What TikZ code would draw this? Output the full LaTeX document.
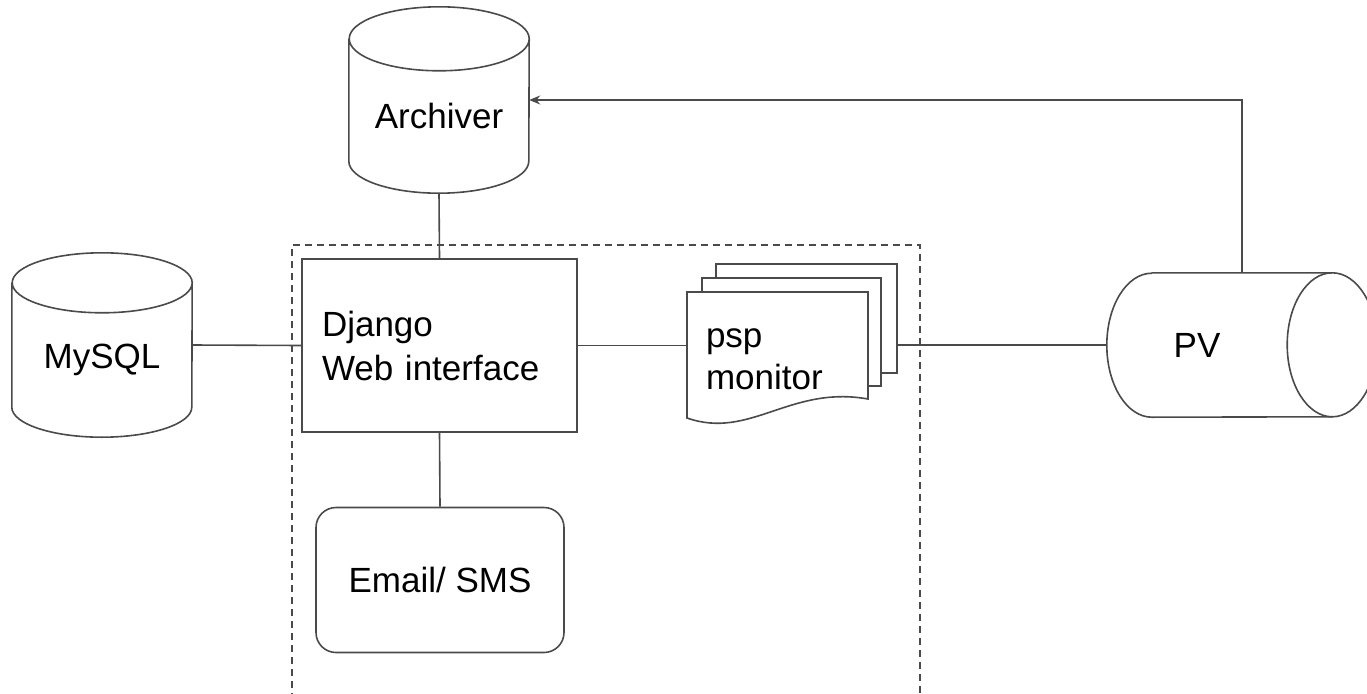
\documentclass[tikz,border=0pt]{standalone}
\usepackage{fontspec}
\setmainfont{Liberation Sans}
\usetikzlibrary{arrows.meta}
\definecolor{linegray}{HTML}{4A4A4A}
\begin{document}
\begin{tikzpicture}[x=1pt,y=-1pt,>={Stealth[length=11pt,width=9pt]},
	every node/.style={font=\fontsize{35}{43}\selectfont},
	conn/.style={draw=linegray,line width=1.6pt},
	outline/.style={draw=linegray,line width=1.6pt},
	dbbox/.style={minimum width=180pt,minimum height=154pt,inner sep=0pt}]
	\useasboundingbox (0,0) rectangle (1367,693);
	\draw[linegray,line width=1.4pt,dash pattern=on 7pt off 5pt] (292,700) -- (292,245) -- (920,245) -- (920,700);
	\node[dbbox] (archiver) at (439,116) {Archiver};
	\node[dbbox] (mysql) at (102,360) {MySQL};
	\node[minimum width=180pt,minimum height=144pt,inner sep=0pt] (pv) at (1197,345) {PV};
	\draw[outline] (archiver.north west) -- ([yshift=32pt]archiver.south west) arc[start angle=180,end angle=360,x radius=90pt,y radius=32pt] -- (archiver.north east) arc[start angle=0,end angle=180,x radius=90pt,y radius=32pt] arc[start angle=180,end angle=360,x radius=90pt,y radius=32pt];
	\draw[outline] (mysql.north west) -- ([yshift=30pt]mysql.south west) arc[start angle=180,end angle=360,x radius=90pt,y radius=30pt] -- (mysql.north east) arc[start angle=0,end angle=180,x radius=90pt,y radius=30pt] arc[start angle=180,end angle=360,x radius=90pt,y radius=30pt];
	\draw[outline] ([xshift=45pt]pv.north west) -- ([xshift=45pt]pv.north east) arc[start angle=90,end angle=-90,x radius=45pt,y radius=72pt] -- ([xshift=45pt]pv.south west) arc[start angle=270,end angle=90,x radius=45pt,y radius=72pt];
	\draw[outline] ([xshift=45pt]pv.north east) arc[start angle=90,end angle=270,x radius=45pt,y radius=72pt];
	\node[draw=linegray,line width=1.6pt,text width=235pt,inner xsep=20pt,minimum height=173pt,align=left,font=\fontsize{35}{44}\selectfont] (django) at (439.5,345.5) {Django\\Web interface};
	\node[draw=linegray,line width=1.6pt,rounded corners=20pt,minimum width=248pt,minimum height=145pt] (email) at (440,580) {Email/ SMS};
	\draw[outline,fill=white] (716,264) rectangle (897,373);
	\draw[outline,fill=white] (702,278) rectangle (881,386);
	\draw[outline,fill=white] (687,292) -- (868,292) -- (868,399) .. controls (790,385) and (750,440) .. (687,418) -- cycle;
	\node[text width=143pt,inner xsep=19pt,align=left,font=\fontsize{35}{42}\selectfont] (psp) at (777.5,359) {psp\\monitor};
	\coordinate (pspback) at (897,345);
	\draw[conn] ([yshift=15pt]mysql.east) -- (django.west);
	\draw[conn] (archiver.south) -- (django.north);
	\draw[conn] (django.south) -- (email.north);
	\draw[conn] (django.east) -- (django.east -| psp.west);
	\draw[conn] (pspback) -- (pv.west);
	\draw[conn,->] ([xshift=45pt]pv.north) |- ([yshift=16pt]archiver.east);
\end{tikzpicture}
\end{document}
